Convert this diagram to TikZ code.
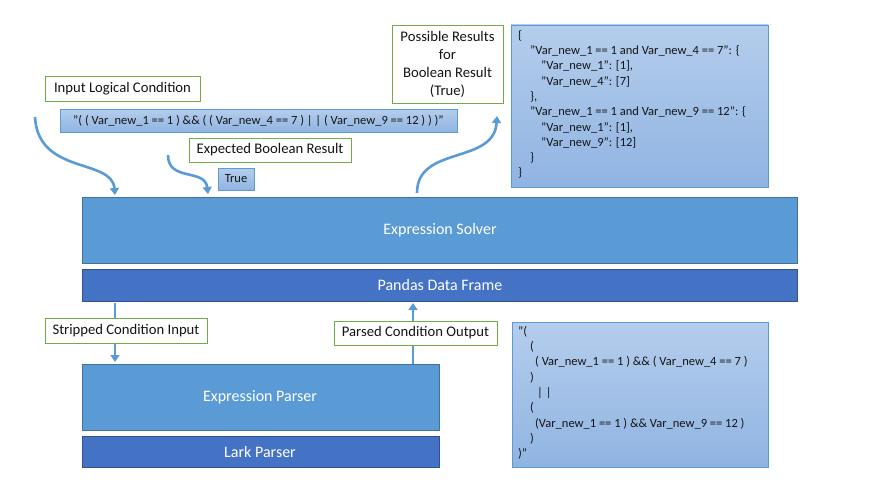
\documentclass[tikz,border=0pt]{standalone}
\usepackage{fontspec}
\setmainfont{Carlito}
\usetikzlibrary{arrows.meta}
\definecolor{solverblue}{HTML}{5B9BD5}
\definecolor{solverborder}{HTML}{41719C}
\definecolor{darkblue}{HTML}{4472C4}
\definecolor{darkborder}{HTML}{2F528F}
\definecolor{labgreen}{HTML}{70AD47}
\definecolor{lighttop}{HTML}{B4CDEC}
\definecolor{lightbot}{HTML}{90B4E2}
\definecolor{textdark}{HTML}{141414}
\tikzset{
  bigbox/.style={draw=solverborder, fill=solverblue, line width=0.8pt},
  darkbox/.style={draw=darkborder, fill=darkblue, line width=0.8pt},
  boxtext/.style={text=white, font=\fontsize{16}{19}\selectfont},
  lbl/.style={draw=labgreen, fill=white, line width=0.9pt, text=textdark, font=\fontsize{14.67}{18}\selectfont, inner sep=0pt},
  lightbox/.style={draw=solverblue, line width=0.9pt, top color=lighttop, bottom color=lightbot, text=textdark, inner sep=0pt},
  txt/.style={text=textdark, font=\fontsize{12.5}{15.3}\selectfont, inner sep=0pt},
  flow/.style={draw=solverblue, line width=2.6pt, -{Triangle[width=9pt,length=7pt]}},
}
\begin{document}
\begin{tikzpicture}[x=1pt,y=-1pt]
\useasboundingbox (0,0) rectangle (874,487);
% main boxes
\path[bigbox] (82,197) rectangle (797,263);
\node[boxtext] (solver) at (440,230) {Expression Solver};
\path[darkbox] (82,269) rectangle (797,301);
\node[boxtext] (pandas) at (440,285) {Pandas Data Frame};
\path[bigbox] (82,364) rectangle (439,430);
\node[boxtext] (parser) at (260,397) {Expression Parser};
\path[darkbox] (82,436) rectangle (439,467);
\node[boxtext] (lark) at (260,452) {Lark Parser};

% connector end points
\coordinate (a1s) at (35,117);
\coordinate (a1e) at (115,195);
\coordinate (a2s) at (168,155);
\coordinate (a2e) at (208,194);
\coordinate (a3s) at (417,193);
\coordinate (a3e) at (497,116);
\coordinate (d1s) at (115,303);
\coordinate (d1e) at (115,362);
\coordinate (u1s) at (413,364);
\coordinate (u1e) at (413,303);

\draw[flow] (a1s) .. controls (38,175) and (112,158) .. (a1e);
\draw[flow] (a2s) .. controls (168,182) and (205,168) .. (a2e);
\draw[flow] (a3s) .. controls (417,145) and (494,165) .. (a3e);
\draw[flow] (d1s) -- (d1e);
\draw[flow] (u1s) -- (u1e);

% green labels
\node[lbl, minimum width=155pt, minimum height=25pt] (inlbl) at (122.5,88.5) {Input Logical Condition};
\node[lbl, minimum width=162pt, minimum height=24pt] (explbl) at (270,150) {Expected Boolean Result};
\node[lbl, minimum width=162pt, minimum height=25pt] (striplbl) at (126,330.5) {Stripped Condition Input};
\node[lbl, minimum width=163pt, minimum height=24pt] (parsedlbl) at (415.5,333) {Parsed Condition Output};
\node[lbl, minimum width=111pt, minimum height=78pt, align=center] (poss) at (447.5,64) {Possible Results\\for\\Boolean Result\\(True)};

% light boxes
\node[lightbox, minimum width=397pt, minimum height=23pt, font=\fontsize{12.5}{15}\selectfont] (cond) at (258.5,120.5) {"( ( Var\_new\_1 == 1 ) \&\& ( ( Var\_new\_4 == 7 ) | | ( Var\_new\_9 == 12 ) ) )"};
\node[lightbox, minimum width=36pt, minimum height=22pt, font=\fontsize{12.5}{15}\selectfont] (truebox) at (236,179) {True};
\path[lightbox] (511,25) rectangle (768,187);
\node[txt, anchor=north west, align=left] (json) at (518,30) {\{\\
\hspace*{12pt}"Var\_new\_1 == 1 and Var\_new\_4 == 7": \{\\
\hspace*{23pt}"Var\_new\_1": [1],\\
\hspace*{23pt}"Var\_new\_4": [7]\\
\hspace*{12pt}\},\\
\hspace*{12pt}"Var\_new\_1 == 1 and Var\_new\_9 == 12": \{\\
\hspace*{23pt}"Var\_new\_1": [1],\\
\hspace*{23pt}"Var\_new\_9": [12]\\
\hspace*{12pt}\}\\
\}};
\path[lightbox] (512,322) rectangle (768,467);
\node[txt, anchor=north west, align=left] (tree) at (518,326) {"(\\
\hspace*{12pt}(\\
\hspace*{17pt}( Var\_new\_1 == 1 ) \&\& ( Var\_new\_4 == 7 )\\
\hspace*{12pt})\\
\hspace*{19pt}| |\\
\hspace*{12pt}(\\
\hspace*{17pt}(Var\_new\_1 == 1 ) \&\& Var\_new\_9 == 12 )\\
\hspace*{12pt})\\
)"};
\end{tikzpicture}
\end{document}
